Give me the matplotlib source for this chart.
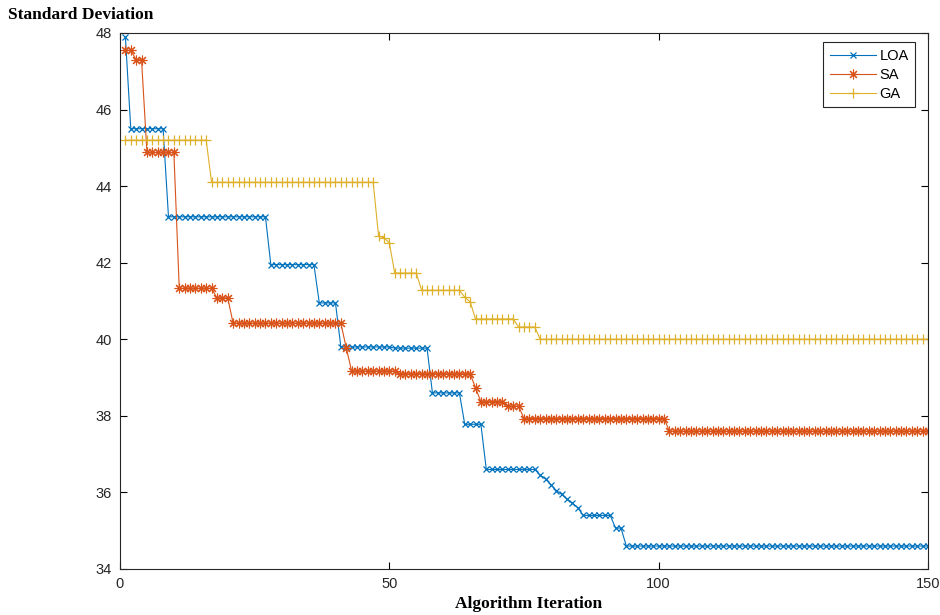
import matplotlib
matplotlib.use('Agg')
import matplotlib.pyplot as plt
import numpy as np

# step values, as (value, number of iterations)
loa_steps = [(47.9, 1), (45.5, 7), (43.2, 19), (41.95, 9), (40.95, 4),
             (39.8, 10), (39.77, 7), (38.6, 6), (37.78, 4), (36.6, 10),
             (36.45, 1), (36.35, 1), (36.2, 1), (36.05, 1), (35.95, 1),
             (35.82, 1), (35.72, 1), (35.6, 1),
             (35.4, 6), (35.07, 2), (34.6, 57)]
sa_steps = [(47.55, 2), (47.3, 2), (44.88, 6), (41.33, 7), (41.08, 3),
            (40.42, 21), (39.78, 1), (39.17, 9), (39.1, 14), (38.73, 1),
            (38.37, 5), (38.25, 3), (37.93, 27), (37.6, 49)]
ga_steps = [(45.2, 16), (44.1, 31), (42.7, 1), (42.65, 1), (42.52, 1),
            (41.73, 5), (41.28, 8), (41.1, 1), (40.98, 1), (40.53, 8),
            (40.32, 4), (40.0, 73)]

series_names = ['LOA', 'SA', 'GA']
x_ticks = [0, 50, 100, 150]
y_ticks = [34, 36, 38, 40, 42, 44, 46, 48]


def expand(steps):
    vals = []
    for v, n in steps:
        vals += [v] * n
    return np.array(vals)


loa = expand(loa_steps)
sa = expand(sa_steps)
ga = expand(ga_steps)
it = np.arange(1, len(loa) + 1)

plt.rcParams['font.family'] = ['Liberation Sans', 'DejaVu Sans']

fig = plt.figure(figsize=(9.4, 6.15), dpi=100)
ax = fig.add_axes([120 / 940, 1 - 569 / 615, 808 / 940, 536 / 615])

ax.plot(it, loa, color='#0072BD', lw=0.8, marker='x', ms=4.5, mew=0.9, label=series_names[0])
ax.plot(it, sa, color='#D95319', lw=0.8, marker=(8, 2, 0), ms=7, mew=0.8, label=series_names[1])
ax.plot(it, ga, color='#DFB02A', lw=0.8, marker='+', ms=7.5, mew=0.9, label=series_names[2])

ax.set_xlim(0, 150)
ax.set_ylim(34, 48)
ax.set_xticks(x_ticks)
ax.set_yticks(y_ticks)
ax.tick_params(direction='in', top=True, right=True, length=5, width=0.8,
               labelsize=10.5, labelcolor='#262626', pad=6)
for s in ax.spines.values():
    s.set_linewidth(0.8)
    s.set_color('#262626')

leg = ax.legend(loc='upper right', bbox_to_anchor=(0.984, 0.983), fontsize=10.5,
                fancybox=False, framealpha=1, edgecolor='#262626',
                handlelength=3.2, borderpad=0.45, labelspacing=0.35, handletextpad=0.2,
                borderaxespad=0.0)
leg.get_frame().set_linewidth(0.8)

fig.text(8 / 940, 1 - 15 / 615, 'Standard Deviation', fontsize=12.5, fontweight='bold',
         family='Liberation Serif', ha='left', va='center')
fig.text(529 / 940, 1 - 604 / 615, 'Algorithm Iteration', fontsize=12.5, fontweight='bold',
         family='Liberation Serif', ha='center', va='center')

fig.savefig('out.png', dpi=100)
print('Wrote: out.png')
